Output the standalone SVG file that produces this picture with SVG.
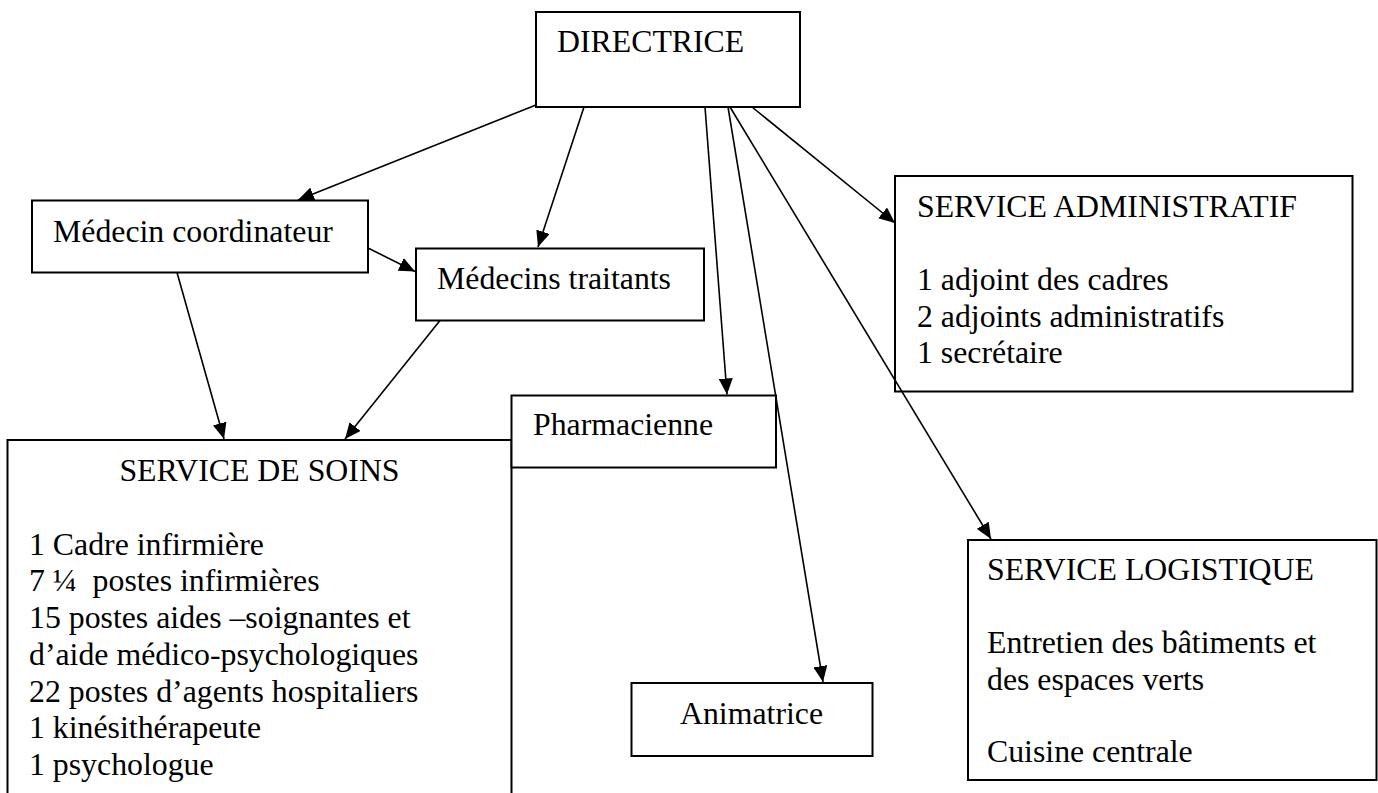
<svg xmlns="http://www.w3.org/2000/svg" width="1378" height="793" viewBox="0 0 1378 793">
<style>
.box{fill:#fff;stroke:#000;stroke-width:2}
.t{font-family:'Times New Roman','Liberation Serif',serif;font-size:31.8px;fill:#000}
.c{stroke:#000;stroke-width:1.6;fill:none;marker-end:url(#ah)}
</style>
<defs>
<marker id="ah" markerUnits="userSpaceOnUse" markerWidth="17" markerHeight="14" refX="16" refY="7" orient="auto">
<path d="M0,0 L16,7 L0,14 z" fill="#000"/>
</marker>
</defs>
<rect width="1378" height="793" fill="#fff"/>
<g id="directrice">
<rect class="box" x="536" y="12" width="264" height="95"/>
<text class="t" x="557" y="52">DIRECTRICE</text>
</g>
<g id="medecin-coordinateur">
<rect class="box" x="32" y="200.5" width="336" height="72"/>
<text class="t" x="53" y="241.5">Médecin coordinateur</text>
</g>
<g id="medecins-traitants">
<rect class="box" x="416" y="248.5" width="288" height="72"/>
<text class="t" x="437" y="288.5">Médecins traitants</text>
</g>
<g id="service-soins">
<rect class="box" x="7.5" y="440" width="504" height="400"/>
<text class="t" x="259.5" y="481" text-anchor="middle">SERVICE DE SOINS</text>
<text class="t" x="29" y="554.5">1 Cadre infirmière</text>
<text class="t" x="29" y="591" xml:space="preserve">7 ¼  postes infirmières</text>
<text class="t" x="29" y="628">15 postes aides –soignantes et</text>
<text class="t" x="29" y="665">d’aide médico-psychologiques</text>
<text class="t" x="29" y="701.5">22 postes d’agents hospitaliers</text>
<text class="t" x="29" y="738">1 kinésithérapeute</text>
<text class="t" x="29" y="774.5">1 psychologue</text>
</g>
<g id="pharmacienne">
<rect class="box" x="511.5" y="395.5" width="264.5" height="72"/>
<text class="t" x="533" y="435">Pharmacienne</text>
</g>
<g id="animatrice">
<rect class="box" x="631.5" y="683" width="241" height="73"/>
<text class="t" x="680" y="723.5">Animatrice</text>
</g>
<g id="service-administratif">
<rect class="box" x="895" y="176" width="457.5" height="215.5"/>
<text class="t" x="917" y="216.5">SERVICE ADMINISTRATIF</text>
<text class="t" x="917" y="290">1 adjoint des cadres</text>
<text class="t" x="917" y="326.5">2 adjoints administratifs</text>
<text class="t" x="917" y="363">1 secrétaire</text>
</g>
<g id="service-logistique">
<rect class="box" x="968" y="540" width="408.5" height="240"/>
<text class="t" x="987" y="580">SERVICE LOGISTIQUE</text>
<text class="t" x="987" y="653">Entretien des bâtiments et</text>
<text class="t" x="987" y="689.5">des espaces verts</text>
<text class="t" x="987" y="762">Cuisine centrale</text>
</g>
<g id="connectors">
<line class="c" x1="536" y1="105" x2="298" y2="200"/>
<line class="c" x1="584" y1="107" x2="538" y2="247"/>
<line class="c" x1="705" y1="107" x2="727" y2="394.5"/>
<line class="c" x1="728" y1="107" x2="823" y2="682"/>
<line class="c" x1="730" y1="107" x2="991" y2="539"/>
<line class="c" x1="752" y1="107" x2="895" y2="223"/>
<line class="c" x1="368" y1="248" x2="415" y2="271.5"/>
<line class="c" x1="177" y1="272.5" x2="224" y2="439"/>
<line class="c" x1="440" y1="320.5" x2="345" y2="439"/>
</g>
</svg>
